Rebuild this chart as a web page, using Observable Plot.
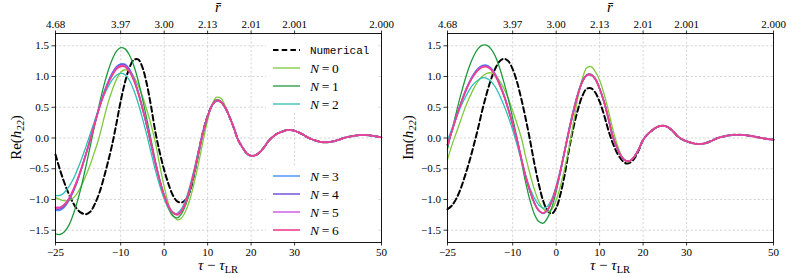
<!DOCTYPE html>
<html><head><meta charset="utf-8">
<script src="https://cdn.jsdelivr.net/npm/d3@7"></script>
<script src="https://cdn.jsdelivr.net/npm/@observablehq/plot@0.6"></script>
<style>
body{margin:0;background:#fff;}
#wrap{display:flex;width:793px;height:278px;overflow:hidden;}
#wrap svg text{font-family:"Liberation Serif";}
</style></head><body><div id="wrap"></div>
<script>
// ---------- data ----------
const xTicks = [-25, -10, 0, 10, 20, 30, 50];
const rTickLabels = ["4.68", "3.97", "3.00", "2.13", "2.01", "2.001", "2.000"];
const yTicks = [-1.5, -1, -0.5, 0, 0.5, 1, 1.5];
const seriesNames = ["Numerical", "N=0", "N=1", "N=2", "N=3", "N=4", "N=5", "N=6"];

// Re(h22): early part (models differ), tail (all coincide)
const tHeadRe = [-25,-24,-23,-22,-21,-20,-19,-18,-17,-16,-15,-14,-13,-12,-11,-10,-9,-8,-7,-6,-5,-4,-3,-2,-1,0,1,2,3,4,5,6,7,8,9,10,11,12,13,14];
const tTailRe = [15,16,17,18,19,20,21,22,23,24,25,26,27,28,29,30,31,32,33,34,35,36,37,38,39,40,41,42,43,44,45,46,47,48,49,50];
const reNum = [-0.27,-0.51,-0.72,-0.90,-1.05,-1.16,-1.22,-1.24,-1.20,-1.08,-0.91,-0.68,-0.41,-0.12,0.23,0.60,0.91,1.14,1.27,1.28,1.15,0.88,0.51,0.09,-0.24,-0.52,-0.75,-0.93,-1.03,-1.05,-1.00,-0.85,-0.55,-0.20,0.12,0.36,0.53,0.61,0.59,0.50];
const reN0 = [-0.97,-1.00,-1.02,-1.02,-0.98,-0.90,-0.77,-0.61,-0.43,-0.22,0.00,0.28,0.55,0.77,0.95,1.07,1.11,1.09,1.00,0.86,0.68,0.46,0.21,-0.08,-0.45,-0.79,-1.07,-1.25,-1.33,-1.30,-1.18,-0.98,-0.70,-0.38,-0.03,0.29,0.54,0.66,0.65,0.53];
const reN1 = [-1.56,-1.57,-1.53,-1.43,-1.26,-1.04,-0.77,-0.46,-0.13,0.20,0.52,0.82,1.07,1.27,1.41,1.47,1.45,1.35,1.18,0.94,0.64,0.31,-0.03,-0.38,-0.69,-0.96,-1.15,-1.27,-1.30,-1.23,-1.08,-0.86,-0.57,-0.24,0.08,0.34,0.53,0.62,0.60,0.50];
const reN2 = [-0.935,-0.935,-0.89,-0.80,-0.68,-0.52,-0.34,-0.14,0.07,0.28,0.49,0.67,0.82,0.94,1.02,1.05,1.03,0.94,0.78,0.57,0.32,0.05,-0.24,-0.53,-0.78,-0.99,-1.14,-1.22,-1.225,-1.15,-0.99,-0.76,-0.48,-0.16,0.13,0.36,0.53,0.61,0.59,0.50];
const reN3 = [-1.175,-1.175,-1.13,-1.03,-0.89,-0.71,-0.50,-0.27,-0.02,0.23,0.48,0.71,0.90,1.05,1.16,1.205,1.20,1.12,0.97,0.76,0.49,0.21,-0.10,-0.41,-0.69,-0.93,-1.11,-1.21,-1.24,-1.18,-1.03,-0.80,-0.52,-0.20,0.11,0.35,0.53,0.61,0.59,0.50];
const reN4 = [-1.155,-1.155,-1.11,-1.01,-0.875,-0.70,-0.49,-0.265,-0.02,0.23,0.48,0.70,0.89,1.04,1.15,1.195,1.19,1.11,0.96,0.75,0.49,0.21,-0.10,-0.41,-0.69,-0.93,-1.11,-1.21,-1.24,-1.18,-1.03,-0.80,-0.52,-0.20,0.11,0.35,0.53,0.61,0.59,0.50];
const reN5 = [-1.125,-1.125,-1.08,-0.99,-0.85,-0.68,-0.48,-0.26,-0.02,0.23,0.47,0.69,0.875,1.02,1.13,1.175,1.17,1.09,0.945,0.74,0.48,0.21,-0.10,-0.41,-0.69,-0.93,-1.11,-1.21,-1.24,-1.18,-1.03,-0.80,-0.52,-0.20,0.11,0.35,0.53,0.61,0.59,0.50];
const reN6 = [-1.135,-1.135,-1.09,-1.00,-0.86,-0.69,-0.485,-0.26,-0.02,0.22,0.47,0.68,0.87,1.01,1.12,1.165,1.16,1.08,0.94,0.73,0.48,0.20,-0.10,-0.41,-0.70,-0.94,-1.12,-1.22,-1.25,-1.19,-1.04,-0.81,-0.52,-0.20,0.11,0.35,0.53,0.61,0.59,0.50];
const reTail = [0.35,0.17,-0.03,-0.15,-0.25,-0.29,-0.28,-0.23,-0.15,-0.05,0.02,0.07,0.10,0.125,0.13,0.117,0.09,0.053,0.009,-0.022,-0.046,-0.063,-0.07,-0.066,-0.053,-0.033,-0.008,0.012,0.027,0.04,0.048,0.05,0.046,0.037,0.023,0.01];

// Im(h22)
const tHeadIm = [-25,-24,-23,-22,-21,-20,-19,-18,-17,-16,-15,-14,-13,-12,-11,-10,-9,-8,-7,-6,-5,-4,-3,-2,-1,0,1,2,3,4,5,6,7,8,9,10,11,12,13,14,15,16,17,18,19];
const tTailIm = [20,21,22,23,24,25,26,27,28,29,30,31,32,33,34,35,36,37,38,39,40,41,42,43,44,45,46,47,48,49,50];
const imNum = [-1.16,-1.10,-0.99,-0.83,-0.62,-0.39,-0.13,0.15,0.45,0.72,0.95,1.13,1.25,1.29,1.25,1.12,0.91,0.63,0.31,-0.04,-0.42,-0.75,-1.02,-1.18,-1.23,-1.14,-0.91,-0.58,-0.17,0.18,0.46,0.68,0.80,0.81,0.74,0.59,0.38,0.13,-0.08,-0.24,-0.35,-0.41,-0.40,-0.33,-0.20];
const imN0 = [-0.35,-0.12,0.08,0.28,0.48,0.65,0.80,0.92,1.00,1.05,1.06,1.02,0.93,0.80,0.64,0.44,0.23,0.00,-0.31,-0.59,-0.84,-1.03,-1.15,-1.20,-1.16,-1.01,-0.78,-0.48,-0.14,0.26,0.66,0.96,1.14,1.16,1.08,0.94,0.72,0.45,0.15,-0.10,-0.28,-0.38,-0.38,-0.31,-0.19];
const imN1 = [-0.18,0.12,0.41,0.69,0.94,1.16,1.33,1.45,1.51,1.51,1.45,1.33,1.14,0.90,0.63,0.32,0.00,-0.38,-0.73,-1.02,-1.24,-1.36,-1.385,-1.30,-1.13,-0.87,-0.55,-0.19,0.16,0.47,0.73,0.93,1.03,1.04,0.97,0.81,0.60,0.33,0.04,-0.16,-0.30,-0.37,-0.37,-0.30,-0.18];
const imN2 = [-0.04,0.15,0.33,0.50,0.65,0.78,0.88,0.94,0.98,0.97,0.92,0.83,0.69,0.53,0.34,0.13,-0.11,-0.37,-0.61,-0.82,-0.98,-1.09,-1.14,-1.11,-0.99,-0.78,-0.50,-0.17,0.16,0.46,0.72,0.92,1.02,1.03,0.96,0.80,0.59,0.32,0.03,-0.16,-0.30,-0.37,-0.37,-0.30,-0.18];
const imN3 = [-0.11,0.11,0.34,0.55,0.75,0.91,1.04,1.13,1.18,1.185,1.14,1.04,0.88,0.70,0.47,0.23,-0.03,-0.34,-0.63,-0.87,-1.06,-1.18,-1.23,-1.17,-1.03,-0.81,-0.53,-0.20,0.13,0.44,0.71,0.91,1.02,1.03,0.96,0.80,0.59,0.32,0.03,-0.16,-0.30,-0.37,-0.37,-0.30,-0.18];
const imN4 = [-0.11,0.11,0.34,0.55,0.74,0.90,1.03,1.12,1.17,1.175,1.13,1.03,0.87,0.69,0.47,0.22,-0.03,-0.34,-0.63,-0.87,-1.06,-1.18,-1.22,-1.17,-1.03,-0.81,-0.53,-0.20,0.13,0.44,0.71,0.91,1.02,1.03,0.96,0.80,0.59,0.32,0.03,-0.16,-0.30,-0.37,-0.37,-0.30,-0.18];
const imN5 = [-0.11,0.11,0.33,0.545,0.735,0.90,1.02,1.11,1.16,1.165,1.12,1.02,0.87,0.69,0.46,0.22,-0.03,-0.34,-0.63,-0.87,-1.06,-1.18,-1.22,-1.17,-1.03,-0.81,-0.53,-0.20,0.13,0.44,0.71,0.91,1.02,1.03,0.96,0.80,0.59,0.32,0.03,-0.16,-0.30,-0.37,-0.37,-0.30,-0.18];
const imN6 = [-0.11,0.11,0.33,0.54,0.73,0.89,1.01,1.10,1.15,1.155,1.11,1.01,0.86,0.68,0.46,0.22,-0.03,-0.34,-0.63,-0.87,-1.06,-1.18,-1.22,-1.17,-1.03,-0.81,-0.53,-0.20,0.13,0.44,0.71,0.91,1.02,1.03,0.96,0.80,0.59,0.32,0.03,-0.16,-0.30,-0.37,-0.37,-0.30,-0.18];
const imTail = [-0.03,0.058,0.12,0.17,0.197,0.196,0.163,0.10,0.025,-0.023,-0.054,-0.078,-0.093,-0.098,-0.09,-0.069,-0.039,-0.004,0.016,0.033,0.045,0.052,0.054,0.05,0.042,0.031,0.017,0.002,-0.01,-0.02,-0.027];

// ---------- styles ----------
const colors = ["#000000", "#80c83c", "#1e9a3c", "#2bbfb3", "#4f94f8", "#7652dc", "#d25ee6", "#ee3f8c"];
const widths = [2, 1.3, 1.3, 1.3, 1.5, 1.5, 1.5, 1.6];
const dashes = ["5.5,3.2", null, null, null, null, null, null, null];
const SERIF = "Liberation Serif";
const MONO = "Liberation Mono";

const rMap = new Map(xTicks.map((d, i) => [d, rTickLabels[i]]));
const fmtX = d => d < 0 ? "\u2212" + Math.abs(d) : String(d);
const fmtY = d3.format(".1f");

function rows(tHead, vals, tTail, tail) {
  return tHead.map((t, i) => ({t, v: vals[i]})).concat(tTail.map((t, i) => ({t, v: tail[i]})));
}

const reSeries = [reNum, reN0, reN1, reN2, reN3, reN4, reN5, reN6].map(a => rows(tHeadRe, a, tTailRe, reTail));
const imSeries = [imNum, imN0, imN1, imN2, imN3, imN4, imN5, imN6].map(a => rows(tHeadIm, a, tTailIm, imTail));

function panel(cfg) {
  const grid = {stroke: "#b8b8b8", strokeOpacity: 1, strokeWidth: 0.6, strokeDasharray: "2.2,2"};
  const axisText = {fontFamily: SERIF, fontSize: 11, stroke: "black", strokeWidth: 0.8, label: null, tickSize: 3.5};
  const marks = [
    Plot.gridX(xTicks, grid),
    Plot.gridY(yTicks, grid)
  ];
  cfg.series.forEach((d, k) => {
    marks.push(Plot.line(d, {x: "t", y: "v", stroke: colors[k], strokeWidth: widths[k],
      strokeDasharray: dashes[k] || undefined, curve: "catmull-rom"}));
  });
  marks.push(Plot.frame({stroke: "black", strokeWidth: 0.9}));
  marks.push(Plot.axisX(xTicks, {...axisText, anchor: "bottom", tickPadding: 2, tickFormat: fmtX}));
  marks.push(Plot.axisX(xTicks, {...axisText, anchor: "top", tickPadding: 2, tickFormat: d => rMap.get(d)}));
  marks.push(Plot.axisY(yTicks, {...axisText, anchor: "left", tickPadding: 3, tickFormat: fmtY}));
  const svg = Plot.plot({
    width: cfg.width, height: 278,
    marginLeft: cfg.marginLeft, marginRight: cfg.marginRight, marginTop: 33, marginBottom: 36,
    x: {domain: [-25, 50]},
    y: {domain: [-1.7, 1.7]},
    style: {fontFamily: SERIF, fontSize: "11px", color: "black", background: "white", overflow: "visible"},
    marks
  });
  const s = d3.select(svg);
  const cx = cfg.marginLeft + (cfg.width - cfg.marginLeft - cfg.marginRight) / 2;
  // bottom title
  const bt = s.append("text").attr("x", cx).attr("y", 270).attr("text-anchor", "middle")
    .attr("font-family", SERIF).attr("font-size", 15).attr("fill", "black");
  bt.append("tspan").attr("font-style", "italic").text("\u03c4");
  bt.append("tspan").text(" \u2212 ");
  bt.append("tspan").attr("font-style", "italic").text("\u03c4");
  bt.append("tspan").attr("font-size", 10.5).attr("dy", 3).text("LR");
  // top title
  s.append("text").attr("x", cx).attr("y", 12).attr("text-anchor", "middle")
    .attr("font-family", SERIF).attr("font-size", 15).attr("font-style", "italic").attr("fill", "black")
    .text("r\u0304");
  // y title
  const yt = s.append("text").attr("transform", `translate(${cfg.marginLeft - 34},137.5) rotate(-90)`)
    .attr("text-anchor", "middle").attr("font-family", SERIF).attr("font-size", 15).attr("fill", "black");
  yt.append("tspan").text(cfg.yPrefix + "(");
  yt.append("tspan").attr("font-style", "italic").text("h");
  yt.append("tspan").attr("font-style", "italic").attr("font-size", 10.5).attr("dy", 3).text("22");
  yt.append("tspan").attr("dy", -3).text(")");
  return svg;
}

function addLegend(svg) {
  const s = d3.select(svg);
  const boxes = [[38, 112], [166, 240]];
  boxes.forEach(([y0, y1]) => s.append("rect").attr("x", 266).attr("y", y0).attr("width", 112).attr("height", y1 - y0).attr("fill", "white"));
  const ys = [50, 68, 86, 104, 176, 194, 212, 230];
  seriesNames.forEach((name, k) => {
    const y = ys[k];
    s.append("line").attr("x1", 273).attr("x2", 300).attr("y1", y).attr("y2", y)
      .attr("stroke", colors[k]).attr("stroke-width", widths[k])
      .attr("stroke-dasharray", dashes[k] || null);
    if (k === 0) {
      s.append("text").attr("x", 310).attr("y", y + 4).attr("text-anchor", "start")
        .attr("font-family", MONO).style("font-family", MONO).attr("font-size", 11).attr("fill", "black").text(name);
    } else {
      const [a, b] = name.split("=");
      const t = s.append("text").attr("x", 310).attr("y", y + 4.5).attr("text-anchor", "start")
        .attr("font-family", SERIF).attr("font-size", 13.5).attr("fill", "black");
      t.append("tspan").attr("font-style", "italic").text(a);
      t.append("tspan").text("\u2009=\u2009" + b);
    }
  });
}

const wrap = document.getElementById("wrap");
const left = panel({width: 397, marginLeft: 55, marginRight: 16, series: reSeries, yPrefix: "Re"});
addLegend(left);
const right = panel({width: 396, marginLeft: 50, marginRight: 20, series: imSeries, yPrefix: "Im"});
wrap.appendChild(left);
wrap.appendChild(right);
</script>
</body></html>
